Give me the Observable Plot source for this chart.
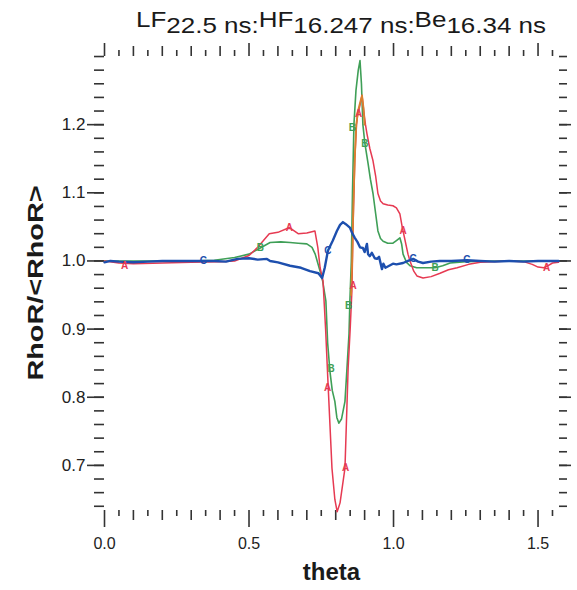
<!DOCTYPE html>
<html><head><meta charset="utf-8">
<script src="https://cdn.jsdelivr.net/npm/d3@7"></script>
<script src="https://cdn.jsdelivr.net/npm/@observablehq/plot@0.6"></script>
<style>
body{margin:0;background:#fff;}
#wrap{position:relative;width:577px;height:590px;overflow:hidden;font-family:"Liberation Sans",Arial,sans-serif;}
#title{position:absolute;left:136px;top:15px;font-size:22px;color:#1a1a1a;white-space:nowrap;transform-origin:0 0;line-height:1;}
#title .up{position:relative;top:-6px;}
</style></head><body>
<div id="wrap"><div id="title"><span class="up">LF</span>22.5 ns:<span class="up">HF</span>16.247 ns:<span class="up">Be</span>16.34 ns</div></div>
<script>
// ---- data ----
const thetaA = [0,0.05,0.1,0.2,0.3,0.4,0.45,0.5,0.53,0.57,0.6,0.64,0.67,0.7,0.728,0.738,0.746,0.756,0.765,0.773,0.787,0.797,0.805,0.815,0.832,0.843,0.85,0.856,0.86,0.866,0.872,0.876,0.882,0.891,0.897,0.903,0.908,0.918,0.929,0.938,0.946,0.955,0.964,0.98,0.998,1.01,1.022,1.03,1.04,1.05,1.057,1.07,1.081,1.102,1.13,1.161,1.19,1.22,1.26,1.3,1.4,1.45,1.48,1.5,1.52,1.535,1.55,1.5708];
const rhoA   = [1.0,0.997,0.996,0.997,0.998,0.999,1.0,1.008,1.02,1.04,1.042,1.049,1.04,1.041,1.044,1.02,0.99,0.971,0.9,0.824,0.696,0.65,0.632,0.645,0.696,0.843,0.9,0.956,1.05,1.15,1.2,1.215,1.225,1.243,1.22,1.2,1.187,1.165,1.147,1.125,1.099,1.088,1.084,1.082,1.081,1.078,1.069,1.05,1.03,1.01,1.0,0.985,0.978,0.975,0.977,0.982,0.987,0.99,0.995,0.998,1.0,0.999,0.995,0.991,0.99,0.993,0.997,0.998];

const thetaB = [0,0.1,0.2,0.3,0.38,0.45,0.5,0.539,0.573,0.61,0.642,0.67,0.7,0.718,0.729,0.746,0.755,0.766,0.772,0.78,0.788,0.797,0.804,0.811,0.82,0.832,0.839,0.846,0.849,0.854,0.858,0.863,0.87,0.878,0.884,0.889,0.894,0.901,0.912,0.92,0.929,0.938,0.946,0.955,0.964,0.98,0.998,1.01,1.022,1.028,1.033,1.045,1.057,1.08,1.102,1.144,1.17,1.196,1.25,1.35,1.45,1.5708];
const rhoB   = [1.0,1.0,1.0,1.0,1.001,1.005,1.01,1.019,1.027,1.028,1.027,1.026,1.025,1.02,1.01,0.985,0.97,0.941,0.88,0.838,0.81,0.794,0.77,0.762,0.768,0.794,0.843,0.893,0.941,1.0,1.1,1.2,1.25,1.28,1.294,1.26,1.2,1.172,1.143,1.12,1.099,1.07,1.044,1.033,1.029,1.026,1.026,1.03,1.034,1.025,1.01,0.998,0.993,0.99,0.99,0.99,0.993,0.997,0.999,1.0,1.0,1.0];

const thetaC = [0,0.02,0.05,0.1,0.15,0.2,0.25,0.3,0.342,0.38,0.42,0.46,0.5,0.53,0.562,0.573,0.6,0.642,0.68,0.711,0.74,0.753,0.762,0.773,0.79,0.804,0.815,0.825,0.835,0.849,0.858,0.866,0.875,0.884,0.894,0.9,0.908,0.912,0.918,0.925,0.935,0.943,0.95,0.96,0.965,0.972,0.985,0.998,1.01,1.033,1.05,1.068,1.085,1.102,1.13,1.16,1.2,1.254,1.3,1.35,1.4,1.45,1.5,1.5708];
const rhoC   = [0.998,1.0,0.999,0.998,0.999,1.0,1.0,1.0,1.0,1.0,0.999,1.003,1.004,1.002,1.003,1.0,0.998,0.993,0.99,0.985,0.982,0.975,0.99,1.015,1.03,1.044,1.053,1.057,1.054,1.049,1.04,1.034,1.028,1.02,1.019,1.013,1.025,1.01,1.007,1.012,1.004,1.003,1.006,0.988,0.996,0.99,0.993,0.996,0.995,0.997,1.0,1.003,0.999,0.997,0.999,1.0,1.0,1.001,1.0,0.999,1.0,0.999,1.0,1.0];

const thetaD = [0.853,0.857,0.861,0.866,0.871,0.878,0.886,0.891,0.896,0.9];
const rhoD   = [0.95,1.0,1.08,1.15,1.2,1.222,1.235,1.243,1.225,1.2];

// letter symbols on the curves
const markAx = [0.07,0.64,0.772,0.834,0.86,0.879,1.033,1.53];
const markAy = [0.993,1.049,0.814,0.696,0.964,1.216,1.044,0.99];
const markBx = [0.539,0.784,0.845,0.858,0.901,1.144];
const markBy = [1.019,0.842,0.934,1.196,1.172,0.99];
const markCx = [0.342,0.773,1.068,1.254];
const markCy = [1.0,1.015,1.003,1.001];

// ticks
const yMajor = [0.7,0.8,0.9,1.0,1.1,1.2];
const yMinor = d3.range(32,66).map(i => i/50);
const xMajor = [0,0.5,1.0,1.5];
const xMed = [0.1,0.2,0.3,0.4,0.6,0.7,0.8,0.9,1.1,1.2,1.3,1.4];
const xShort = [0.05,0.15,0.25,0.35,0.45,0.55,0.65,0.75,0.85,0.95,1.05,1.15,1.25,1.35,1.45,1.55];

const xlabel = "theta";
const ylabel = "RhoR/<RhoR>";

const rows = (xs, ys) => xs.map((x,i) => ({x, y: ys[i]}));
const A = rows(thetaA, rhoA), B = rows(thetaB, rhoB), C = rows(thetaC, rhoC), D = rows(thetaD, rhoD);
const MA = rows(markAx, markAy), MB = rows(markBx, markBy), MC = rows(markCx, markCy);

const red = "#e63a52", green = "#3f9f57", blue = "#1d4fae", orange = "#d9812e";
const tk = {stroke: "#333", strokeWidth: 1.6};
const f1 = d3.format(".1f");

const chart = Plot.plot({
  width: 577, height: 590,
  marginLeft: 104, marginRight: 19, marginTop: 55, marginBottom: 80,
  x: {domain: [0, 1.5708]},
  y: {domain: [0.6338, 1.3015]},
  style: {fontFamily: "'Liberation Sans', Arial, sans-serif", color: "#222", background: "#fff"},
  marks: [
    Plot.axisY(yMinor, {anchor: "left", tickSize: 10, text: null, label: null, ...tk}),
    Plot.axisY(yMajor, {anchor: "left", tickSize: 17, tickPadding: 2, tickFormat: f1, fontSize: 17, label: null, ...tk}),
    Plot.axisY(yMinor, {anchor: "right", tickSize: 8, text: null, label: null, ...tk}),
    Plot.axisY(yMajor, {anchor: "right", tickSize: 12, text: null, label: null, ...tk}),
    Plot.axisX(xShort, {anchor: "bottom", tickSize: 6, text: null, label: null, ...tk}),
    Plot.axisX(xMed, {anchor: "bottom", tickSize: 10, text: null, label: null, ...tk}),
    Plot.axisX(xMajor, {anchor: "bottom", tickSize: 17, tickPadding: 10, tickFormat: f1, fontSize: 16, label: null, ...tk}),
    Plot.axisX(xShort, {anchor: "top", tickSize: 6, text: null, label: null, ...tk}),
    Plot.axisX(xMed, {anchor: "top", tickSize: 10, text: null, label: null, ...tk}),
    Plot.axisX(xMajor, {anchor: "top", tickSize: 13, text: null, label: null, ...tk}),
    Plot.line(B, {x: "x", y: "y", stroke: green, strokeWidth: 1.6}),
    Plot.line(A, {x: "x", y: "y", stroke: red, strokeWidth: 1.5}),
    Plot.line(D, {x: "x", y: "y", stroke: orange, strokeWidth: 1.8}),
    Plot.line(C, {x: "x", y: "y", stroke: blue, strokeWidth: 2.4}),
    Plot.text(MA, {x: "x", y: "y", text: () => "A", fill: red, fontSize: 10, fontWeight: "bold"}),
    Plot.text(MB, {x: "x", y: "y", text: () => "B", fill: green, fontSize: 10, fontWeight: "bold"}),
    Plot.text(MC, {x: "x", y: "y", text: () => "C", fill: blue, fontSize: 10, fontWeight: "bold"}),
    Plot.text([xlabel], {frameAnchor: "bottom", dy: 69, fontSize: 24, fontWeight: "bold", fill: "#1a1a1a"}),
    Plot.text([ylabel], {frameAnchor: "left", textAnchor: "middle", dx: -69, rotate: -90, fontSize: 22, fontWeight: "bold", fill: "#1a1a1a"})
  ]
});
document.getElementById("wrap").prepend(chart);
d3.select(chart).selectAll("text").filter(function() { return this.textContent === ylabel; })
  .attr("textLength", 195).attr("lengthAdjust", "spacingAndGlyphs");
const t = document.getElementById("title");
const w = t.getBoundingClientRect().width;
t.style.transform = `scaleX(${410 / w})`;
</script>
</body></html>
